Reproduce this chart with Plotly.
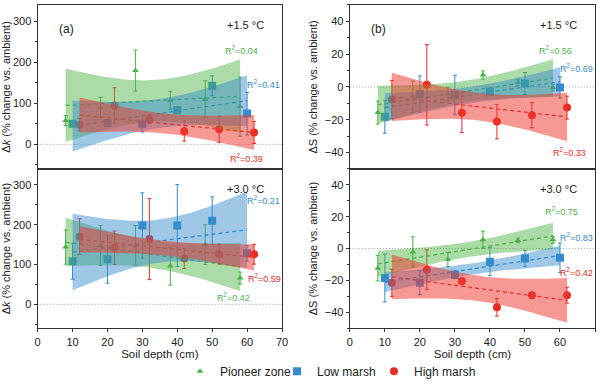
import numpy as np
import plotly.graph_objects as go

# soil depth of each zone (cm)
depth_pz = [8, 18, 28, 38, 48, 58]
depth_lm = [10, 20, 30, 40, 50, 60]
depth_hm = [12, 22, 32, 42, 52, 62]

# delta k, +1.5 C
k15_pz = [58, 90, 180, 107, 110, 92]
k15_pz_err = [12, 25, 50, 22, 45, 72]
k15_lm = [50, 52, 50, 83, 143, 75]
k15_lm_err = [5, 5, 20, 8, 24, 52]
k15_hm = [48, 95, 61, 32, 37, 29]
k15_hm_err = [15, 43, 10, 24, 32, 27]

# delta k, +3.0 C
k30_pz = [144, 148, 148, 96, 150, 66]
k30_pz_err = [43, 50, 50, 48, 50, 15]
k30_lm = [108, 113, 198, 198, 210, 128]
k30_lm_err = [45, 60, 82, 103, 60, 20]
k30_hm = [170, 142, 164, 115, 126, 126]
k30_hm_err = [45, 42, 102, 25, 25, 25]

# delta S, +1.5 C
s15_pz = [-15.6, -6.0, -4.3, 7.3, 2.7, -0.5]
s15_pz_err = [7, 9.6, 4, 2.5, 2, 2]
s15_lm = [-18.2, -4.3, -4.9, -2.9, 2.1, -0.3]
s15_lm_err = [10, 11, 12, 2, 6.7, 6.5]
s15_hm = [-7.6, 1.3, -15.8, -21.1, -17.2, -12.6]
s15_hm_err = [11.6, 24.5, 12, 10.5, 7.7, 7]

# delta S, +3.0 C
s30_pz = [-12.3, -2.1, -6.8, 5.5, 5.1, 5.5]
s30_pz_err = [8, 9.5, 4.5, 5.4, 1.5, 2.2]
s30_lm = [-18.5, -21.5, -16.4, -8.2, -6.2, -5.8]
s30_lm_err = [15, 7.5, 2.5, 8.8, 5, 9.3]
s30_hm = [-21.5, -13.3, -20.5, -36.9, -29.3, -29.3]
s30_hm_err = [8.5, 12.5, 2, 5.5, 1.5, 5]

r2_labels = {
    "k15": ["R<sup>2</sup>=0.04", "R<sup>2</sup>=0.41", "R<sup>2</sup>=0.39"],
    "k30": ["R<sup>2</sup>=0.42", "R<sup>2</sup>=0.21", "R<sup>2</sup>=0.59"],
    "s15": ["R<sup>2</sup>=0.56", "R<sup>2</sup>=0.69", "R<sup>2</sup>=0.33"],
    "s30": ["R<sup>2</sup>=0.75", "R<sup>2</sup>=0.83", "R<sup>2</sup>=0.42"],
}

GREEN = "rgb(76,178,72)"
BLUE = "rgb(52,140,205)"
RED = "rgb(235,42,36)"
FILLS = ["rgba(80,180,70,0.48)", "rgba(55,140,205,0.48)", "rgba(238,60,50,0.52)"]
T95 = 2.776  # t value, n=6, df=4
FONT = "Liberation Sans, Arial, sans-serif"


def fit_band(x, y, n=60):
    x = np.asarray(x, float)
    y = np.asarray(y, float)
    b, a = np.polyfit(x, y, 1)
    s = np.sqrt(((y - (a + b * x)) ** 2).sum() / (len(x) - 2))
    sxx = ((x - x.mean()) ** 2).sum()
    xs = np.linspace(x.min(), x.max(), n)
    fit = a + b * xs
    half = T95 * s * np.sqrt(1 / len(x) + (xs - x.mean()) ** 2 / sxx)
    return xs, fit, fit - half, fit + half


fig = go.Figure()

panels = [
    ("x", "y", [(k15_pz, k15_pz_err), (k15_lm, k15_lm_err), (k15_hm, k15_hm_err)], True),
    ("x2", "y2", [(k30_pz, k30_pz_err), (k30_lm, k30_lm_err), (k30_hm, k30_hm_err)], False),
    ("x3", "y3", [(s15_pz, s15_pz_err), (s15_lm, s15_lm_err), (s15_hm, s15_hm_err)], False),
    ("x4", "y4", [(s30_pz, s30_pz_err), (s30_lm, s30_lm_err), (s30_hm, s30_hm_err)], False),
]
depths = [depth_pz, depth_lm, depth_hm]
names = ["Pioneer zone", "Low marsh", "High marsh"]
colors = [GREEN, BLUE, RED]
symbols = ["triangle-up", "square", "circle"]
sizes = [6, 8, 8]

for xa, ya, series, legend in panels:
    # points, error bars and fitted lines
    for i, (vals, errs) in enumerate(series):
        fig.add_trace(go.Scatter(
            x=depths[i], y=vals, mode="markers", name=names[i],
            marker=dict(symbol=symbols[i], size=sizes[i], color=colors[i]),
            error_y=dict(type="data", array=errs, color=colors[i], thickness=1, width=2),
            xaxis=xa, yaxis=ya, showlegend=legend, legendgroup=names[i]))
        xs, fit, lo, hi = fit_band(depths[i], vals)
        fig.add_trace(go.Scatter(
            x=xs, y=fit, mode="lines", line=dict(color=colors[i], width=1.3, dash="4px,3px"),
            xaxis=xa, yaxis=ya, showlegend=False, hoverinfo="skip"))
    # confidence bands on top
    for i, (vals, errs) in enumerate(series):
        xs, fit, lo, hi = fit_band(depths[i], vals)
        fig.add_trace(go.Scatter(
            x=np.concatenate([xs, xs[::-1]]), y=np.concatenate([hi, lo[::-1]]),
            mode="lines", fill="toself", fillcolor=FILLS[i], line=dict(width=0),
            xaxis=xa, yaxis=ya, showlegend=False, hoverinfo="skip"))

# empty legend slot so the last legend label is not clipped
fig.add_trace(go.Scatter(x=[None], y=[None], mode="markers", name=" ",
                         marker=dict(color="rgba(0,0,0,0)", size=1, line=dict(width=0)),
                         showlegend=True, hoverinfo="skip"))

xa_dom = [0.0628, 0.470]
xb_dom = [0.583, 0.9917]
top_dom = [0.5518, 0.987]
bot_dom = [0.1295, 0.5518]

axis_common = dict(showline=True, linecolor="#333", linewidth=1.3, mirror=True,
                   ticks="outside", ticklen=3, tickcolor="#333", showgrid=False,
                   zeroline=False, automargin=False,
                   tickfont=dict(size=11, color="#222", family=FONT))


def xaxis(dom, anchor, labels):
    d = dict(axis_common, domain=dom, anchor=anchor, range=[0, 70], dtick=10)
    if labels:
        d["title"] = dict(text="Soil depth (cm)", font=dict(size=11.5, color="#222"), standoff=2)
    else:
        d["showticklabels"] = False
        d["ticks"] = ""
    return d


def yaxis(dom, anchor, rng, dtick, title):
    d = dict(axis_common, domain=dom, anchor=anchor, range=rng, dtick=dtick,
             minor=dict(dtick=dtick / 2, ticks="outside", ticklen=2, tickcolor="#333"),
             title=dict(text=title, font=dict(size=11, color="#222"), standoff=4))
    return d


ktitle = "Δ<i>k</i> (% change vs. ambient)"
stitle = "ΔS (% change vs. ambient)"

fig.update_layout(
    width=600, height=386,
    margin=dict(l=0, r=0, t=0, b=0),
    plot_bgcolor="white", paper_bgcolor="white",
    font=dict(family=FONT, color="#222"),
    xaxis=xaxis(xa_dom, "y", False),
    yaxis=yaxis(top_dom, "x", [-60, 340], 100, ktitle),
    xaxis2=xaxis(xa_dom, "y2", True),
    yaxis2=yaxis(bot_dom, "x2", [-60, 340], 100, ktitle),
    xaxis3=xaxis(xb_dom, "y3", False),
    yaxis3=yaxis(top_dom, "x3", [-50, 50], 20, stitle),
    xaxis4=xaxis(xb_dom, "y4", True),
    yaxis4=yaxis(bot_dom, "x4", [-50, 50], 20, stitle),
    legend=dict(orientation="h", x=0.3, xanchor="left", y=0.015, yanchor="middle",
                font=dict(size=12, color="#222"), itemwidth=30, tracegroupgap=0,
                entrywidth=52, entrywidthmode="pixels"),
)

# dotted zero lines
for xa, ya in [("x", "y"), ("x2", "y2"), ("x3", "y3"), ("x4", "y4")]:
    fig.add_shape(type="line", xref=xa + " domain", yref=ya, x0=0, x1=1, y0=0, y1=0,
                  line=dict(color="#999", width=1, dash="1px,2px"), layer="below")

# panel letters and temperature labels
for xa, ya, txt in [("x", "y", "(a)"), ("x3", "y3", "(b)")]:
    fig.add_annotation(xref=xa + " domain", yref=ya + " domain", x=0.079, y=0.91,
                       text=txt, showarrow=False, xanchor="left", font=dict(size=12))
for xa, ya, txt in [("x", "y", "+1.5 °C"), ("x2", "y2", "+3.0 °C"),
                    ("x3", "y3", "+1.5 °C"), ("x4", "y4", "+3.0 °C")]:
    fig.add_annotation(xref=xa + " domain", yref=ya + " domain", x=0.935, y=0.925,
                       text=txt, showarrow=False, xanchor="right", font=dict(size=11))

# R2 labels
r2_pos = {
    "k15": ("x", "y", [(58.5, 229), (64.8, 148), (59.7, -33)]),
    "k30": ("x2", "y2", [(56.2, 18), (64.6, 262), (64.9, 67)]),
    "s15": ("x3", "y3", [(58.6, 22.3), (64.8, 11.6), (62.7, -39.6)]),
    "s30": ("x4", "y4", [(60.5, 23.6), (64.8, 7.2), (64.8, -14.8)]),
}
for key, (xa, ya, pos) in r2_pos.items():
    for i, (px, py) in enumerate(pos):
        fig.add_annotation(xref=xa, yref=ya, x=px, y=py, text=r2_labels[key][i],
                           showarrow=False, font=dict(size=9, color=colors[i]))

fig.write_html("out.html", config={"displayModeBar": False},
               post_script="document.body.style.margin='0px';")
